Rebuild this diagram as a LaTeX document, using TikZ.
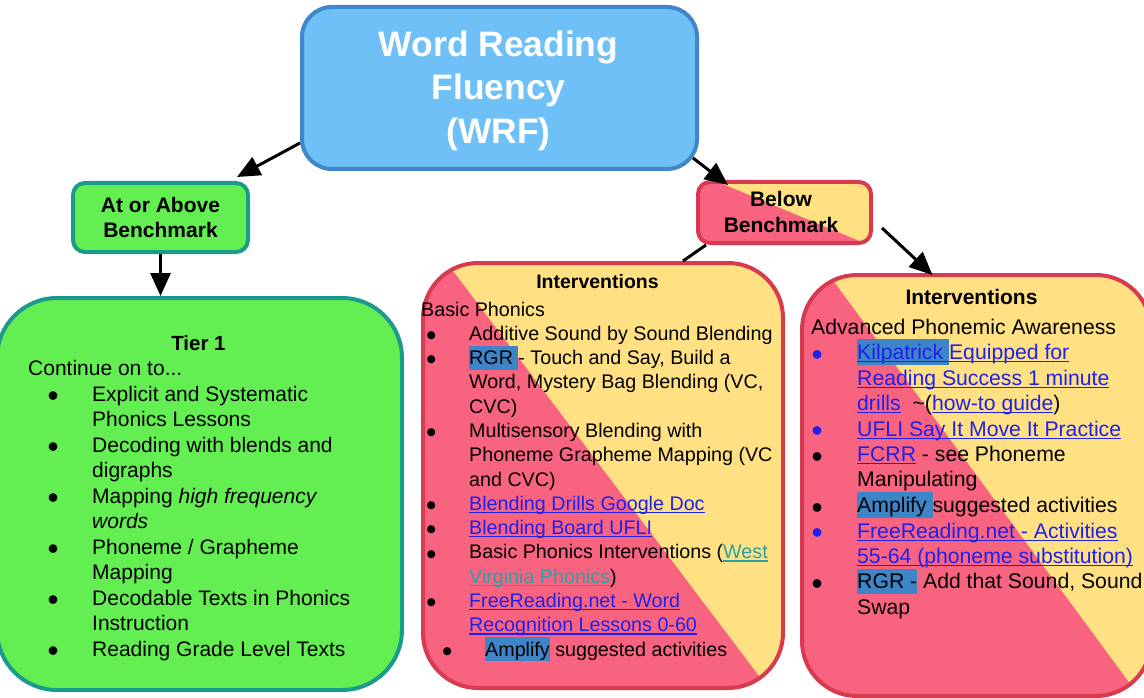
\documentclass[tikz,border=0pt]{standalone}
\usepackage{fontspec}
\setmainfont{Liberation Sans}
\usetikzlibrary{arrows.meta}
\definecolor{wrffill}{HTML}{6FC0F7}
\definecolor{wrfline}{HTML}{3F86CA}
\definecolor{grnfill}{HTML}{63EE52}
\definecolor{grnline}{HTML}{1C9B8C}
\definecolor{pnkfill}{HTML}{F8637F}
\definecolor{ylwfill}{HTML}{FFE184}
\definecolor{redline}{HTML}{D83A50}
\definecolor{hlblue}{HTML}{3D85C6}
\definecolor{lnkblue}{HTML}{2020EC}
\definecolor{lnkteal}{HTML}{27A2A6}

\newsavebox{\ulbox}
\newcommand{\ulin}[1]{\sbox{\ulbox}{#1}\rlap{\rule[-2.8pt]{\wd\ulbox}{1.3pt}}\usebox{\ulbox}}
\newcommand{\hl}[1]{\smash{\fboxsep=0pt\colorbox{hlblue}{\rule[-0.25em]{0pt}{1.2em}#1}}}
\newcommand{\lnk}[1]{\textcolor{lnkblue}{\ulin{#1}}}
\newcommand{\tlnk}[1]{\textcolor{lnkteal}{\ulin{#1}}}
\newcommand{\bdot}{\hspace*{-0.08em}\smash{\raisebox{-0.26em}{\scalebox{1.5}{\textbullet}}}}
\newcommand{\bbdot}{\textcolor{lnkblue}{\bdot}}

\tikzset{
  txt/.style={inner sep=0pt},
  wrfbox/.style={draw=wrfline, fill=wrffill, line width=4pt, rounded corners=30pt,
    minimum width=395pt, minimum height=162pt},
  grnbox/.style={draw=grnline, fill=grnfill, line width=4pt},
  splitbox/.style 2 args={draw=redline, line width=4pt, path picture={
      \fill[ylwfill, sharp corners] (path picture bounding box.south west) rectangle (path picture bounding box.north east);
      \fill[pnkfill, sharp corners] (path picture bounding box.north west)
        -- ([xshift=#1]path picture bounding box.north west)
        -- ([xshift=-#2]path picture bounding box.south east)
        -- (path picture bounding box.south west) -- cycle;}},
  headtxt/.style={align=center, font=\bfseries\fontsize{21}{25.5}\selectfont},
  arr/.style={line width=3pt, -{Triangle[length=23pt,width=20pt]}},
  ln/.style={line width=3pt}
}

\begin{document}
\begin{tikzpicture}[x=1pt, y=-1pt]

  \path[use as bounding box, clip] (0,0) rectangle (1144,698);

  %% boxes
  \node[wrfbox] (wrf) at (499.5,88) {};
  \node[txt, anchor=base, text=white, font=\bfseries\fontsize{35.4}{43.3}\selectfont]
    (wrftext) at (498.5,56.7) {\begin{tabular}[t]{@{}c@{}}Word Reading\\Fluency\\(WRF)\end{tabular}};
  \node[grnbox, headtxt, rounded corners=12pt, minimum width=175pt, minimum height=69pt]
    (atbox) at (160.5,217.5) {At or Above\\Benchmark};
  \node[grnbox, rounded corners=60pt, minimum width=405pt, minimum height=392pt]
    (tier1) at (199.5,494) {};
  \node[splitbox={20pt}{7pt}, rounded corners=12pt, minimum width=173pt, minimum height=61pt]
    (below) at (784.5,212.5) {};
  \node[txt, headtxt, anchor=base] (belowtext) at (781,206.7)
    {\begin{tabular}[t]{@{}c@{}}Below\\Benchmark\end{tabular}};
  \node[splitbox={24pt}{15pt}, rounded corners=55pt, minimum width=360pt, minimum height=425pt]
    (midbox) at (603,475.5) {};
  \node[splitbox={27pt}{12pt}, rounded corners=55pt, minimum width=349pt, minimum height=421pt]
    (rightbox) at (976.5,485.5) {};

  %% tier 1
  \node[txt, anchor=base, font=\bfseries\fontsize{20.5}{25.5}\selectfont] (tiertitle) at (198.5,350) {Tier 1};
  \node[txt, anchor=base west, font=\fontsize{21}{25.5}\selectfont] (tierlist) at (28,375.5) {%
    \begin{tabular}[t]{@{\hspace{21pt}}p{43pt}@{}l@{}}
      \multicolumn{2}{@{}l@{}}{Continue on to...}\\
      \bdot & Explicit and Systematic\\
            & Phonics Lessons\\
      \bdot & Decoding with blends and\\
            & digraphs\\
      \bdot & Mapping \textit{high frequency}\\
            & \textit{words}\\
      \bdot & Phoneme / Grapheme\\
            & Mapping\\
      \bdot & Decodable Texts in Phonics\\
            & Instruction\\
      \bdot & Reading Grade Level Texts
    \end{tabular}};

  %% basic phonics
  \node[txt, anchor=base, font=\bfseries\fontsize{19.5}{24.3}\selectfont] (midtitle) at (597.5,288) {Interventions};
  \node[txt, anchor=base west, font=\fontsize{19.7}{24.3}\selectfont] (midlist) at (421,316) {%
    \begin{tabular}[t]{@{\hspace{6.5pt}}p{41.5pt}@{}l@{}}
      \multicolumn{2}{@{}l@{}}{Basic Phonics}\\
      \bdot & Additive Sound by Sound Blending\\
      \bdot & \hl{RGR\ }- Touch and Say, Build a\\
            & Word, Mystery Bag Blending (VC,\\
            & CVC)\\
      \bdot & Multisensory Blending with\\
            & Phoneme Grapheme Mapping (VC\\
            & and CVC)\\
      \bdot & \lnk{Blending Drills Google Doc}\\
      \bdot & \lnk{Blending Board UFLI}\\
      \bdot & Basic Phonics Interventions (\tlnk{West}\\
            & \tlnk{Virginia Phonics})\\
      \bdot & \lnk{FreeReading.net - Word}\\
            & \lnk{Recognition Lessons 0-60}\\
      \multicolumn{2}{@{}l@{}}{\hspace*{22.5pt}\makebox[41.5pt][l]{\bdot}\hl{Amplify} suggested activities}
    \end{tabular}};

  %% advanced phonemic awareness
  \node[txt, anchor=base, font=\bfseries\fontsize{21}{25.5}\selectfont] (righttitle) at (971.5,304) {Interventions};
  \node[txt, anchor=base west, font=\fontsize{21.2}{25.5}\selectfont] (rightlist) at (811,334) {%
    \begin{tabular}[t]{@{\hspace{2pt}}p{44pt}@{}l@{}}
      \multicolumn{2}{@{}l@{}}{Advanced Phonemic Awareness}\\
      \bbdot & \hl{\lnk{Kilpatrick\ }}\lnk{Equipped for}\\
             & \lnk{Reading Success 1 minute}\\
             & \lnk{drills}\ \ \textasciitilde(\lnk{how-to guide})\\
      \bbdot & \lnk{UFLI Say It Move It Practice}\\
      \bdot  & \lnk{FCRR} - see Phoneme\\
             & Manipulating\\
      \bdot  & \hl{Amplify\ }suggested activities\\
      \bbdot & \lnk{FreeReading.net - Activities}\\
             & \lnk{55-64 (phoneme substitution)}\\
      \bdot  & \hl{RGR -}\ Add that Sound, Sound\\
             & Swap
    \end{tabular}};

  %% connectors
  \draw[arr] ([yshift=-55pt]wrf.west) -- ([shift={(-13pt,4pt)}]atbox.north east); % wrf - at
  \draw[arr] (atbox.south) -- (atbox.south |- tier1.north); % at - tier 1
  \draw[arr] ([shift={(-6pt,13pt)}]wrf.south east) -- ([shift={(32pt,-5pt)}]below.north west); % wrf - below
  \draw[ln] ([xshift=10pt]below.south west) -- ([xshift=80pt]midbox.north); % below - basic
  \draw[arr] ([shift={(9pt,17pt)}]below.south east) -- ([shift={(-44pt,-2pt)}]rightbox.north); % below - advanced

\end{tikzpicture}
\end{document}
